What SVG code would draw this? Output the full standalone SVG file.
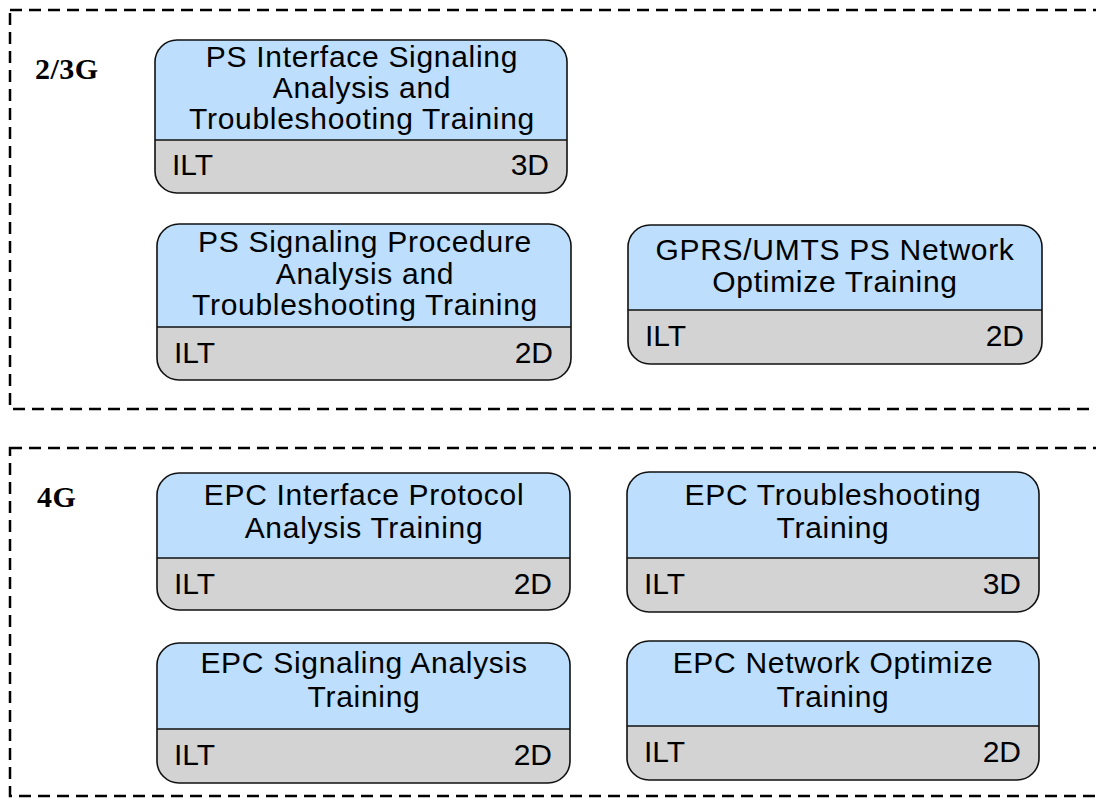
<svg xmlns="http://www.w3.org/2000/svg" width="1096" height="802" viewBox="0 0 1096 802">
  <style>
    .frame { fill: none; stroke: #000; stroke-width: 2.5; stroke-dasharray: 12 7; }
    .zone { font-family: "Liberation Serif", "Times New Roman", serif; font-weight: bold; font-size: 30px; letter-spacing: 0.5px; fill: #000; }
    .body { fill: #d3d3d3; }
    .head { fill: #bddefc; }
    .outline { fill: none; stroke: #111; stroke-width: 1.6; }
    .div { stroke: #111; stroke-width: 1.6; }
    .title { font-family: "Liberation Sans", Arial, sans-serif; font-size: 30px; letter-spacing: 0.7px; fill: #000; text-anchor: middle; }
    .foot { font-family: "Liberation Sans", Arial, sans-serif; font-size: 30px; fill: #000; }
    .end { text-anchor: end; }
  </style>

  <!-- group frames -->
  <g id="groups">
    <rect class="frame" x="10" y="10" width="1100" height="399"/>
    <text class="zone" x="35" y="79">2/3G</text>
    <rect class="frame" x="10" y="448" width="1100" height="348"/>
    <text class="zone" x="37" y="507">4G</text>
  </g>

  <g id="connectors"></g>

  <!-- course cards -->
  <g id="ps-interface-signaling">
    <rect class="body" x="155" y="40" width="412" height="153" rx="22"/>
    <path class="head" d="M155,140 V62 A22,22 0 0 1 177,40 H545 A22,22 0 0 1 567,62 V140 Z"/>
    <line class="div" x1="155" y1="140" x2="567" y2="140"/>
    <rect class="outline" x="155" y="40" width="412" height="153" rx="22"/>
    <text class="title" x="362" y="67">PS Interface Signaling</text>
    <text class="title" x="362" y="98">Analysis and</text>
    <text class="title" x="362" y="129">Troubleshooting Training</text>
    <text class="foot" x="172" y="175">ILT</text>
    <text class="foot end" x="549" y="175">3D</text>
  </g>

  <g id="ps-signaling-procedure">
    <rect class="body" x="157" y="224" width="414" height="156" rx="22"/>
    <path class="head" d="M157,327 V246 A22,22 0 0 1 179,224 H549 A22,22 0 0 1 571,246 V327 Z"/>
    <line class="div" x1="157" y1="327" x2="571" y2="327"/>
    <rect class="outline" x="157" y="224" width="414" height="156" rx="22"/>
    <text class="title" x="365" y="252">PS Signaling Procedure</text>
    <text class="title" x="365" y="284">Analysis and</text>
    <text class="title" x="365" y="315">Troubleshooting Training</text>
    <text class="foot" x="174" y="363">ILT</text>
    <text class="foot end" x="553" y="363">2D</text>
  </g>

  <g id="gprs-umts-optimize">
    <rect class="body" x="628" y="225" width="414" height="139" rx="22"/>
    <path class="head" d="M628,310 V247 A22,22 0 0 1 650,225 H1020 A22,22 0 0 1 1042,247 V310 Z"/>
    <line class="div" x1="628" y1="310" x2="1042" y2="310"/>
    <rect class="outline" x="628" y="225" width="414" height="139" rx="22"/>
    <text class="title" x="835" y="260">GPRS/UMTS PS Network</text>
    <text class="title" x="835" y="292">Optimize Training</text>
    <text class="foot" x="645" y="346">ILT</text>
    <text class="foot end" x="1024" y="346">2D</text>
  </g>

  <g id="epc-interface-protocol">
    <rect class="body" x="157" y="473" width="413" height="137" rx="22"/>
    <path class="head" d="M157,558 V495 A22,22 0 0 1 179,473 H548 A22,22 0 0 1 570,495 V558 Z"/>
    <line class="div" x1="157" y1="558" x2="570" y2="558"/>
    <rect class="outline" x="157" y="473" width="413" height="137" rx="22"/>
    <text class="title" x="364" y="505">EPC Interface Protocol</text>
    <text class="title" x="364" y="538">Analysis Training</text>
    <text class="foot" x="174" y="594">ILT</text>
    <text class="foot end" x="552" y="594">2D</text>
  </g>

  <g id="epc-troubleshooting">
    <rect class="body" x="627" y="472" width="412" height="140" rx="22"/>
    <path class="head" d="M627,558 V494 A22,22 0 0 1 649,472 H1017 A22,22 0 0 1 1039,494 V558 Z"/>
    <line class="div" x1="627" y1="558" x2="1039" y2="558"/>
    <rect class="outline" x="627" y="472" width="412" height="140" rx="22"/>
    <text class="title" x="833" y="505">EPC Troubleshooting</text>
    <text class="title" x="833" y="538">Training</text>
    <text class="foot" x="644" y="594">ILT</text>
    <text class="foot end" x="1021" y="594">3D</text>
  </g>

  <g id="epc-signaling-analysis">
    <rect class="body" x="157" y="643" width="413" height="140" rx="22"/>
    <path class="head" d="M157,729 V665 A22,22 0 0 1 179,643 H548 A22,22 0 0 1 570,665 V729 Z"/>
    <line class="div" x1="157" y1="729" x2="570" y2="729"/>
    <rect class="outline" x="157" y="643" width="413" height="140" rx="22"/>
    <text class="title" x="364" y="673">EPC Signaling Analysis</text>
    <text class="title" x="364" y="707">Training</text>
    <text class="foot" x="174" y="765">ILT</text>
    <text class="foot end" x="552" y="765">2D</text>
  </g>

  <g id="epc-network-optimize">
    <rect class="body" x="627" y="641" width="412" height="139" rx="22"/>
    <path class="head" d="M627,726 V663 A22,22 0 0 1 649,641 H1017 A22,22 0 0 1 1039,663 V726 Z"/>
    <line class="div" x1="627" y1="726" x2="1039" y2="726"/>
    <rect class="outline" x="627" y="641" width="412" height="139" rx="22"/>
    <text class="title" x="833" y="673">EPC Network Optimize</text>
    <text class="title" x="833" y="707">Training</text>
    <text class="foot" x="644" y="762">ILT</text>
    <text class="foot end" x="1021" y="762">2D</text>
  </g>
</svg>
